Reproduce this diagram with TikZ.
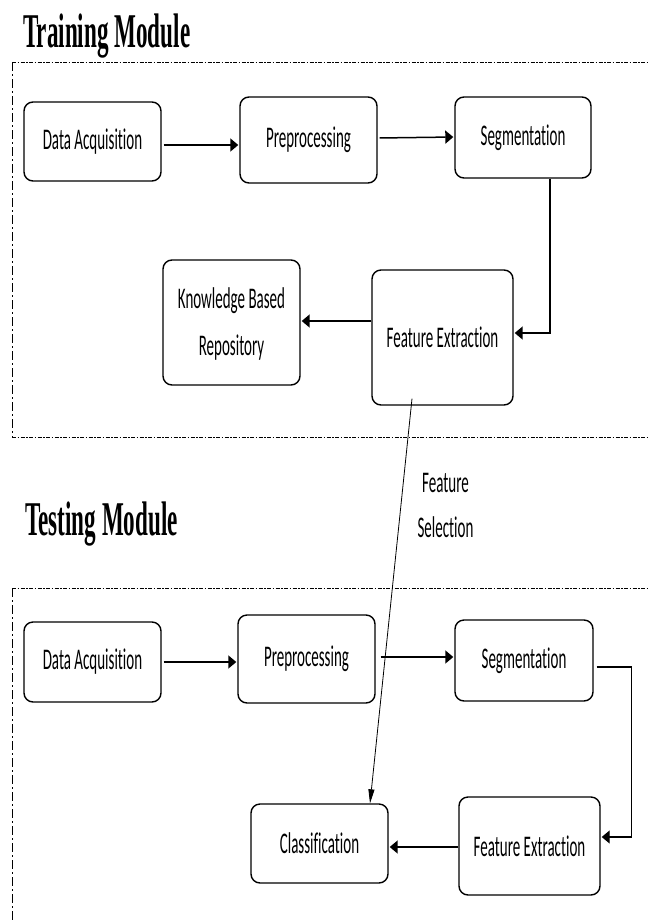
\documentclass[tikz,border=0pt]{standalone}
\usepackage{fontspec}
\usepackage{graphicx}
\setmainfont{Carlito}[Ligatures={NoCommon}]
\newfontfamily\titlefont{Liberation Serif}
\usetikzlibrary{arrows.meta,calc}
\newcommand{\tall}[1]{\scalebox{1}[2]{#1}}
\begin{document}
\begin{tikzpicture}[x=1pt,y=-1pt,
  box/.style={draw, line width=1.4pt, rounded corners=9pt, inner sep=0pt, align=center, font=\fontsize{15}{18}\selectfont},
  arr/.style={line width=1.5pt, -{Triangle[length=8pt,width=13pt]}},
  selarr/.style={line width=0.8pt, -{Triangle[length=14pt,width=6pt]}},
  dd/.style={line width=1pt, dash pattern=on 4pt off 1.5pt on 1.5pt off 1.5pt},
  ddv/.style={line width=1pt, dash pattern=on 9pt off 3pt on 2pt off 3pt},
  titlestyle/.style={anchor=base west, inner sep=0pt, font=\titlefont\bfseries\fontsize{23.1}{26}\selectfont},
  lbl/.style={inner sep=0pt, font=\fontsize{15}{22.5}\selectfont}]
\useasboundingbox (0,0) rectangle (649,922);

% titles
\node[titlestyle] (ttrain) at (23,47) {\scalebox{1}[2.1]{Training Module}};
\node[titlestyle] (ttest) at (25,535) {\scalebox{1}[2.1]{Testing Module}};

% module frames
\draw[dd] (12,62) -- (649,62);
\draw[ddv] (12,62) -- (12,437);
\draw[dd] (12,437) -- (649,437);
\draw[dd] (12,588) -- (649,588);
\draw[ddv] (12,588) -- (12,922);

% training boxes
\node[box, minimum width=137pt, minimum height=79pt] (da1) at (92.5,141.5) {\tall{Data Acquisition}};
\node[box, minimum width=137pt, minimum height=86pt] (pre1) at (308.5,140) {\tall{Preprocessing}};
\node[box, minimum width=136pt, minimum height=81pt] (seg1) at (523,137.5) {\tall{Segmentation}};
\node[box, minimum width=137pt, minimum height=125pt] (kbr) at (231.5,322.5) {\fontsize{15}{23.5}\selectfont\scalebox{1}[2]{\begin{tabular}{@{}c@{}}Knowledge Based\\Repository\end{tabular}}};
\node[box, minimum width=141pt, minimum height=135pt] (fe1) at (442.5,337.5) {\tall{Feature Extraction}};

% testing boxes
\node[box, minimum width=137pt, minimum height=80pt] (da2) at (92.5,662) {\tall{Data Acquisition}};
\node[box, minimum width=137pt, minimum height=88pt] (pre2) at (306.5,659) {\tall{Preprocessing}};
\node[box, minimum width=138pt, minimum height=81pt] (seg2) at (524,660.5) {\tall{Segmentation}};
\node[box, minimum width=141pt, minimum height=98pt] (fe2) at (529.5,846) {\tall{Feature Extraction}};
\node[box, minimum width=137pt, minimum height=79pt] (cls) at (319.5,843.5) {\tall{Classification}};

% training connectors
\draw[arr, shorten <=2pt, shorten >=1pt] ([yshift=-3.5pt]da1.east) -- ([yshift=-5pt]pre1.west);
\draw[arr, shorten <=2pt, shorten >=1pt] ([yshift=2pt]pre1.east) -- ([yshift=0.5pt]seg1.west);
\draw[arr, shorten >=1pt] ([xshift=27pt]seg1.south) |- ([yshift=4.5pt]fe1.east);
\draw[arr, shorten >=1pt] ([yshift=16.5pt]fe1.west) -- ([yshift=1.5pt]kbr.east);

% feature selection
\draw[selarr] ([xshift=-30.5pt,yshift=7pt]fe1.south) -- ([xshift=50.5pt]cls.north);
\node[lbl] (fsel) at (445.5,505.5) {\scalebox{1}[2]{\begin{tabular}{@{}c@{}}Feature\\Selection\end{tabular}}};

% testing connectors
\draw[arr, shorten <=2pt, shorten >=1pt] (da2.east) -- ([yshift=-3pt]pre2.west);
\draw[arr, shorten <=5pt, shorten >=1pt] ([yshift=2pt]pre2.east) -- ([yshift=3.5pt]seg2.west);
\draw[arr, line width=1.3pt, shorten <=3pt, shorten >=1pt] ([yshift=-6.5pt]seg2.east) -- ++(38,0) |- ([yshift=9pt]fe2.east);
\draw[arr, shorten >=1pt] ([yshift=-1pt]fe2.west) -- ([yshift=-3.5pt]cls.east);
\end{tikzpicture}
\end{document}
